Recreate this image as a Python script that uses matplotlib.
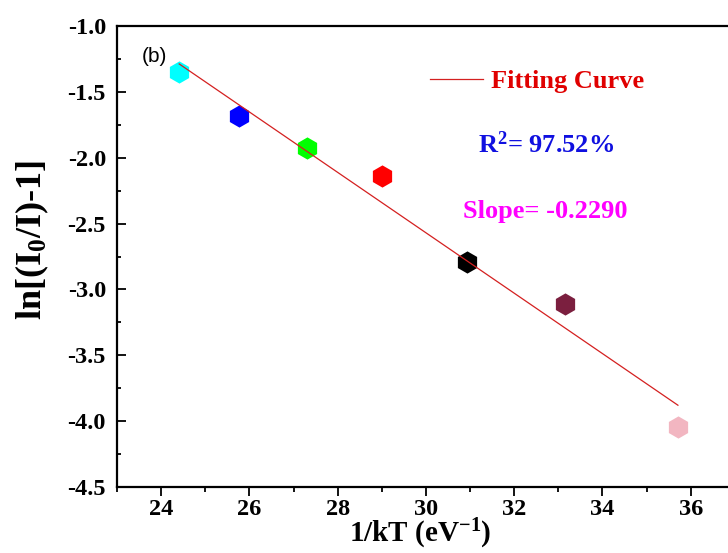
import numpy as np
import matplotlib
matplotlib.use("Agg")
import matplotlib.pyplot as plt
from matplotlib.ticker import MultipleLocator

# measured points: 1/kT (eV^-1) vs ln[(I0/I)-1]
inv_kT = [24.41, 25.77, 27.31, 29.01, 30.93, 33.15, 35.71]
ln_ratio = [-1.351, -1.685, -1.930, -2.139, -2.794, -3.110, -4.040]
point_colors = ["#00ffff", "#0000ff", "#00ff00", "#ff0000", "#000000", "#7b1f3f", "#f2b6c1"]

# linear fit parameters
slope = -0.2290
intercept = 4.300
r_squared = 97.52

plt.rcParams["font.family"] = ["Liberation Serif", "DejaVu Serif"]
plt.rcParams["font.weight"] = "bold"
plt.rcParams["axes.labelweight"] = "bold"
plt.rcParams["axes.unicode_minus"] = False
plt.rcParams["mathtext.fontset"] = "custom"
plt.rcParams["mathtext.rm"] = "Liberation Serif:bold"
plt.rcParams["mathtext.bf"] = "Liberation Serif:bold"
plt.rcParams["mathtext.it"] = "Liberation Serif:bold"
plt.rcParams["mathtext.default"] = "bf"

fig = plt.figure(figsize=(7.28, 5.53), dpi=100)
ax = fig.add_axes([0.1607, 0.1188, 0.8487, 0.8347])

x_fit = np.array([min(inv_kT), max(inv_kT)])
fit_line, = ax.plot(x_fit, slope * x_fit + intercept, color="#d42020", lw=0.9, zorder=3)

for x, y, c in zip(inv_kT, ln_ratio, point_colors):
    ax.plot(x, y, marker="h", markersize=16, color=c, markeredgewidth=0, linestyle="none", zorder=2)

ax.set_xlim(23, 37)
ax.set_ylim(-4.5, -1.0)
ax.xaxis.set_major_locator(MultipleLocator(2))
ax.xaxis.set_minor_locator(MultipleLocator(1))
ax.yaxis.set_major_locator(MultipleLocator(0.5))
ax.yaxis.set_minor_locator(MultipleLocator(0.25))
ax.yaxis.set_major_formatter(plt.FormatStrFormatter("%.1f"))

ax.tick_params(axis="x", which="both", direction="out", labelsize=17.5, width=1.3, pad=2)
ax.tick_params(axis="x", which="major", length=6.5)
ax.tick_params(axis="x", which="minor", length=3.5)
ax.tick_params(axis="y", which="both", direction="in", labelsize=17.5, width=1.3, pad=8)
ax.tick_params(axis="y", which="major", length=6.5)
ax.tick_params(axis="y", which="minor", length=3.2)
for side in ["left", "bottom", "top", "right"]:
    ax.spines[side].set_linewidth(1.6)

ax.set_xlabel("1/kT (eV$^{-1}$)", fontsize=21, va="bottom")
ax.set_ylabel("ln[(I$_0$/I)-1]", fontsize=26)
ax.xaxis.set_label_coords(0.490, -0.138)
ax.yaxis.set_label_coords(-0.107, 0.536)

ax.text(0.040, 0.934, "(b)", transform=ax.transAxes, fontsize=15,
        family="Liberation Sans", fontweight="normal", va="center", ha="left")

leg = ax.legend([fit_line], ["Fitting Curve"], loc="center left",
                bbox_to_anchor=(0.468, 0.880), frameon=False, handlelength=2.0,
                handletextpad=0.3, prop={"size": 19, "weight": "bold"})
for t in leg.get_texts():
    t.set_color("#e00000")

ax.text(31.18, -1.904, "R$^2$= %.2f%%" % r_squared, color="#1010e0", fontsize=19,
        va="center", ha="left")
ax.text(30.84, -2.412, "Slope= %.4f" % slope, color="#ff00ff", fontsize=19,
        va="center", ha="left")

fig.savefig("out.png", dpi=100)
